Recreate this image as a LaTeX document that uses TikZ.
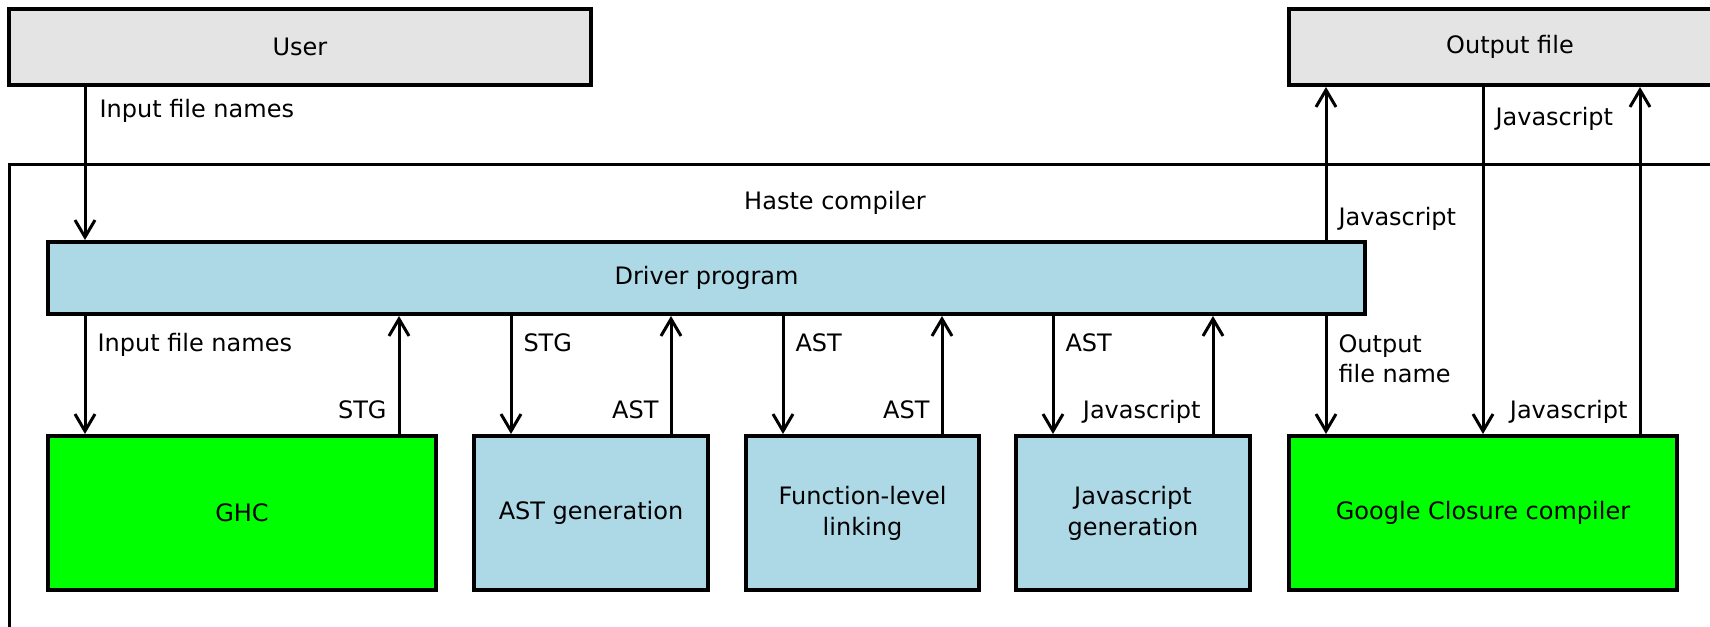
\documentclass[tikz,border=0pt]{standalone}
\usepackage{fontspec}
\setmainfont{DejaVu Sans}
\usetikzlibrary{arrows.meta}

\definecolor{boxgrey}{HTML}{E4E4E4}
\definecolor{boxblue}{HTML}{ADD8E6}
\definecolor{boxgreen}{HTML}{00FF00}

\tikzset{
  unit/.style={draw, line width=2pt, inner sep=2pt, align=center,
    font=\fontsize{12}{15.5}\selectfont},
  greybox/.style={unit, fill=boxgrey},
  bluebox/.style={unit, fill=boxblue},
  greenbox/.style={unit, fill=boxgreen},
  flow/.style={line width=1.5pt, -{Straight Barb[length=8.5pt, width=10pt]}},
  lab/.style={inner sep=0pt, align=left, font=\fontsize{12}{15}\selectfont},
}

\begin{document}
\begin{tikzpicture}[x=0.5pt, y=-0.5pt]
\useasboundingbox (0,0) rectangle (1710,627);
\clip (0,0) rectangle (1710,627);

% outside world
\node[greybox, minimum width=291pt, minimum height=38pt] (user) at (300,47) {User};
\node[greybox, minimum width=221pt, minimum height=38pt] (output) at (1510,47) {Output file};

% compiler frame (runs off the right and bottom edge)
\node[draw, line width=1.5pt, minimum width=861pt, minimum height=240pt] (haste) at (870,404) {};
\node[lab] (hastename) at (835,203) {Haste compiler};

% driver and its stages
\node[bluebox, minimum width=658.5pt, minimum height=36pt] (driver) at (706.5,278) {Driver program};
\node[greenbox, minimum width=194pt, minimum height=77pt] (ghc) at (242,513) {GHC};
\node[bluebox, minimum width=117pt, minimum height=77pt] (astgen) at (591,513) {AST generation};
\node[bluebox, minimum width=116.5pt, minimum height=77pt] (linker) at (862.5,513) {Function-level\\linking};
\node[bluebox, minimum width=117pt, minimum height=77pt] (jsgen) at (1133,513) {Javascript\\generation};
\node[greenbox, minimum width=194pt, minimum height=77pt] (gcc) at (1483,513) {Google Closure compiler};

\foreach \b in {ghc,astgen,linker,jsgen,gcc} {
    \coordinate (\b-in) at ([xshift=19.5pt]\b.north west);
    \coordinate (\b-out) at ([xshift=-19.5pt]\b.north east);
}

% user to driver
\draw[flow] (user.south -| ghc-in) -- (driver.north -| ghc-in)
    node[lab, pos=0, anchor=base west, xshift=6.5pt, yshift=-15pt] {Input file names};

% driver to the stages and back
\foreach \b/\sent/\back in {ghc/Input file names/STG, astgen/STG/AST, linker/AST/AST, jsgen/AST/Javascript} {
    \draw[flow] (driver.south -| \b-in) -- (\b-in)
        node[lab, pos=0, anchor=base west, xshift=5.5pt, yshift=-17.5pt] {\sent};
    \draw[flow] (\b-out) -- (driver.south -| \b-out)
        node[lab, pos=0, anchor=base east, xshift=-5.5pt, yshift=8pt] {\back};
}

% closure compiler and output file
\draw[flow] (driver.north -| gcc-in) -- (output.south -| gcc-in)
    node[lab, pos=0, anchor=base west, xshift=5.5pt, yshift=7.5pt] {Javascript};
\draw[flow] (driver.south -| gcc-in) -- (gcc-in)
    node[lab, pos=0, anchor=north west, xshift=5.5pt, yshift=-8.5pt] {Output\\file name};
\draw[flow] (output.south -| gcc.north) -- (gcc.north)
    node[lab, pos=0, anchor=base west, xshift=5.5pt, yshift=-19pt] {Javascript};
\draw[flow] (gcc-out) -- (output.south -| gcc-out)
    node[lab, pos=0, anchor=base east, xshift=-5.5pt, yshift=8pt] {Javascript};
\end{tikzpicture}
\end{document}
